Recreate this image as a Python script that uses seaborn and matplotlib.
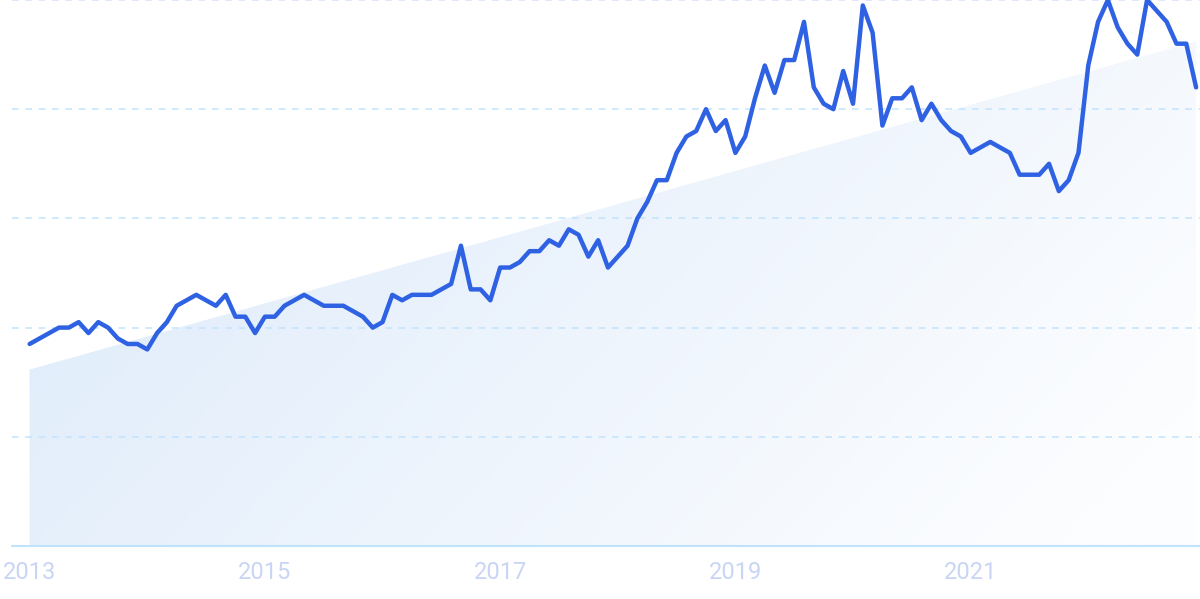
import numpy as np
import pandas as pd
import matplotlib
matplotlib.use("Agg")
import matplotlib.pyplot as plt
import seaborn as sns

# ---------------------------------------------------------------------------
# Data: monthly interest, Jan 2013 - Dec 2022
# ---------------------------------------------------------------------------
interest = [
    37, 38, 39, 40, 40, 41, 39, 41, 40, 38,
    37, 37, 36, 39, 41, 44, 45, 46, 45, 44,
    46, 42, 42, 39, 42, 42, 44, 45, 46, 45,
    44, 44, 44, 43, 42, 40, 41, 46, 45, 46,
    46, 46, 47, 48, 55, 47, 47, 45, 51, 51,
    52, 54, 54, 56, 55, 58, 57, 53, 56, 51,
    53, 55, 60, 63, 67, 67, 72, 75, 76, 80,
    76, 78, 72, 75, 82, 88, 83, 89, 89, 96,
    84, 81, 80, 87, 81, 99, 94, 77, 82, 82,
    84, 78, 81, 78, 76, 75, 72, 73, 74, 73,
    72, 68, 68, 68, 70, 65, 67, 72, 88, 96,
    100, 95, 92, 90, 100, 98, 96, 92, 92, 84,
]
tick_years = ["2013", "2015", "2017", "2019", "2021"]
tick_months = [0, 24, 48, 72, 96]
grid_levels = [20, 40, 60, 80, 100]

LINE_COLOR = "#2f62e3"
GRID_COLOR = "#c6e5fd"
LABEL_COLOR = "#c9d5f4"

df = pd.DataFrame({"month": np.arange(len(interest)), "interest": interest})

# linear trend of the series
coef = np.polyfit(df["month"], df["interest"], 1)
trend = np.polyval(coef, df["month"])

# ---------------------------------------------------------------------------
# Plot
# ---------------------------------------------------------------------------
sns.set_style("white")
plt.rcParams["font.family"] = ["Roboto", "DejaVu Sans"]

fig = plt.figure(figsize=(12, 5.99), dpi=100)
ax = fig.add_axes([0.01, 53 / 599, 0.99, 546 / 599])

x0, x1 = -1.8, 119.4
ax.set_xlim(x0, x1)
ax.set_ylim(0, 100)

# gradient filled area under trend
poly = ax.fill_between(df["month"], 0, trend, color="none", lw=0)
nx, ny = 300, 150
gx = np.linspace(0, 1, nx)
gy = np.linspace(0, 1, ny)
GX, GY = np.meshgrid(gx, gy)
t = np.clip(0.8 * GX + 0.35 * (1 - GY) - 0.05, 0, 1)
top = np.array([220, 234, 250]) / 255
bot = np.array([252, 253, 255]) / 255
img = top[None, None, :] * (1 - t[..., None]) + bot[None, None, :] * t[..., None]
im = ax.imshow(img, extent=[x0, x1, 0, 100], origin="lower", aspect="auto",
               zorder=1, interpolation="bilinear")
im.set_clip_path(poly.get_paths()[0], transform=ax.transData)

# grid lines
for lvl in grid_levels:
    ax.axhline(lvl, color="#dce3fa" if lvl == 100 else GRID_COLOR, lw=1.2,
               dashes=(4, 4), zorder=2, clip_on=False)
ax.axhline(0, color="#bfe3fb", lw=1.5, zorder=2, clip_on=False)

sns.lineplot(data=df, x="month", y="interest", color=LINE_COLOR, lw=3.2,
             ax=ax, zorder=3, clip_on=False)

ax.set_xticks(tick_months)
ax.set_xticklabels(tick_years, color=LABEL_COLOR, fontsize=17)
ax.tick_params(axis="x", length=0, pad=11)
ax.set_yticks([])
ax.set_xlabel("")
ax.set_ylabel("")
for s in ax.spines.values():
    s.set_visible(False)

fig.savefig("out.png", dpi=100)
